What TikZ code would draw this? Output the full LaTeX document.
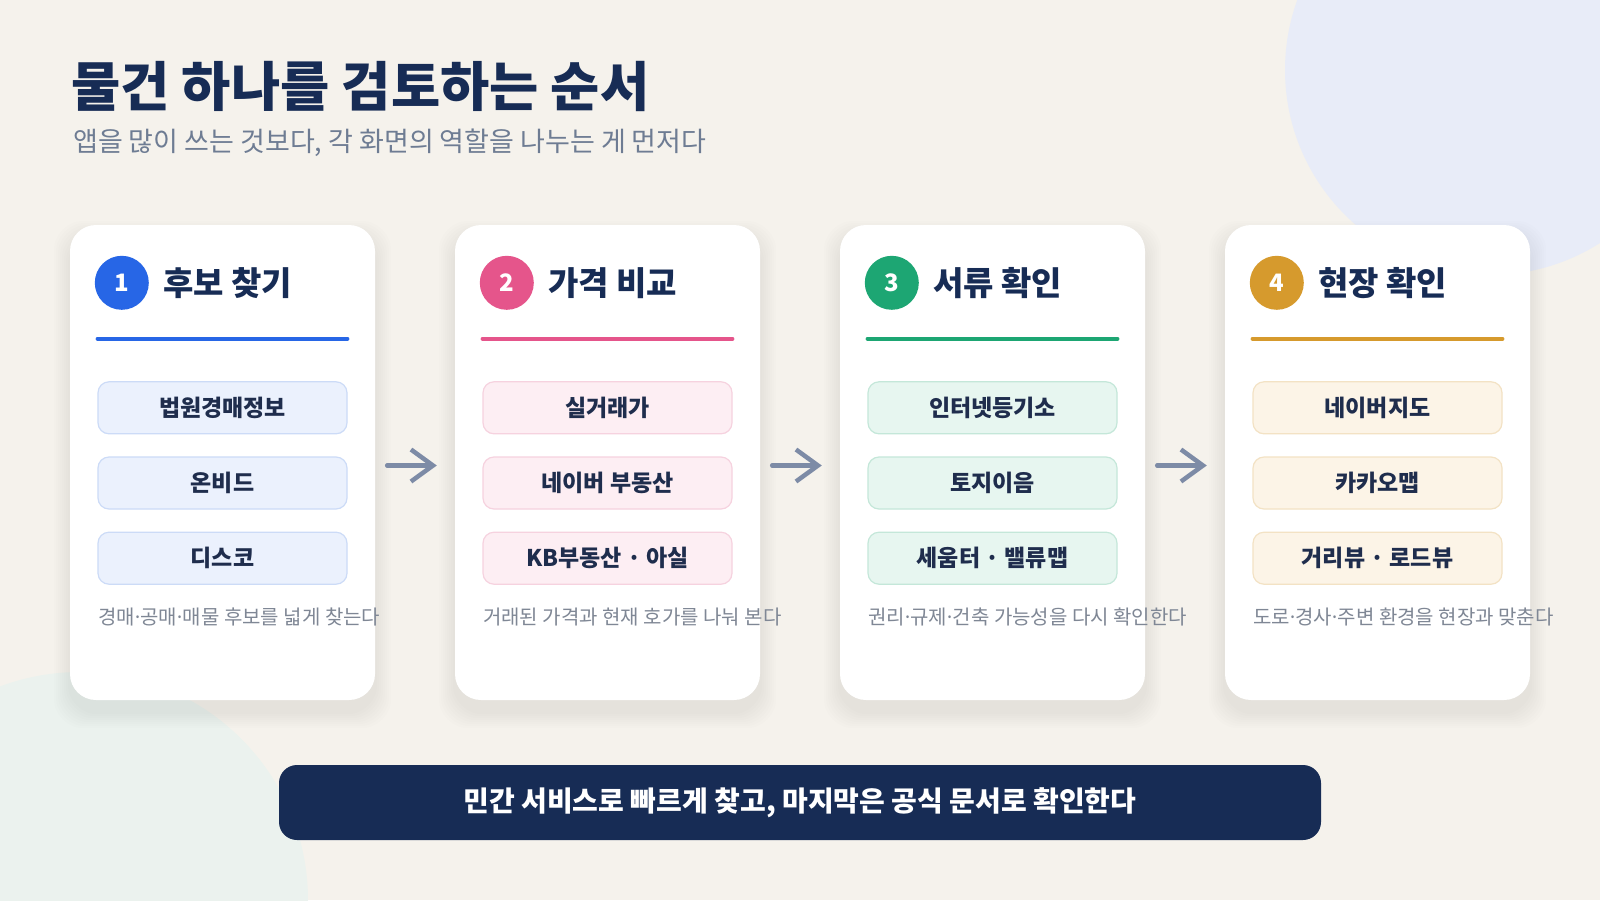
\documentclass[tikz,border=0pt]{standalone}
\usepackage{fontspec}
\setmainfont{Noto Sans CJK KR}
\usetikzlibrary{arrows.meta,positioning,calc,backgrounds}
\definecolor{pagebg}{HTML}{F5F2EC}
\definecolor{bubbleblue}{HTML}{E8ECF8}
\definecolor{bubblegreen}{HTML}{EBF2EE}
\definecolor{navy}{HTML}{172C55}
\definecolor{itemink}{HTML}{1F2D4D}
\definecolor{subgray}{HTML}{6E7C93}
\definecolor{notegray}{HTML}{7F8795}
\definecolor{arrowgray}{HTML}{7D8BA6}
\definecolor{main1}{HTML}{2766E6}
\definecolor{main2}{HTML}{E5558B}
\definecolor{main3}{HTML}{1DA673}
\definecolor{main4}{HTML}{D69A2D}
\definecolor{tint1}{HTML}{EBF1FD}
\definecolor{tint2}{HTML}{FDEEF3}
\definecolor{tint3}{HTML}{E7F6F0}
\definecolor{tint4}{HTML}{FCF4E7}
\definecolor{edge1}{HTML}{CCDBF7}
\definecolor{edge2}{HTML}{F6D2DF}
\definecolor{edge3}{HTML}{C4E7D9}
\definecolor{edge4}{HTML}{F3E2C4}
% tight middle dot for the notes
\newcommand{\tdot}{\kern-0.14em·\kern-0.14em}

\begin{document}
\begin{tikzpicture}[x=1pt, y=-1pt,
    card/.style={fill=white, rounded corners=26pt, minimum width=305pt, minimum height=475pt, inner sep=0pt},
    badge/.style={circle, minimum size=54pt, inner sep=0pt, text=white, font=\fontsize{24}{24}\selectfont\bfseries},
    cardtitle/.style={inner sep=0pt, text=navy, font=\fontsize{33}{33}\selectfont\bfseries},
    rule/.style={line width=4.5pt, line cap=round},
    item/.style={rounded corners=11pt, line width=1.2pt, minimum width=249pt, minimum height=52pt, inner sep=0pt, text=itemink, font=\fontsize{23}{23}\selectfont\bfseries},
    note/.style={anchor=west, inner sep=0pt, text=notegray, font=\fontsize{20}{20}\selectfont},
    flow/.style={-{Straight Barb[length=22pt, width=32pt]}, line width=4.5pt, arrowgray, line cap=round, line join=round}]

    \useasboundingbox (0,0) rectangle (1600,900);

    % Page and bubbles
    \begin{scope}[on background layer]
        \clip (0,0) rectangle (1600,900);
        \fill[pagebg] (0,0) rectangle (1600,900);
        \fill[bubbleblue] (1490,70) circle (205);
        \fill[bubblegreen] (80,900) circle (228);
    \end{scope}

    % Heading
    \node[anchor=west, inner sep=0pt, text=navy, font=\fontsize{53.5}{53.5}\selectfont\bfseries] (title) at (71,86) {물건 하나를 검토하는 순서};
    \node[anchor=west, inner sep=0pt, text=subgray, font=\fontsize{27}{27}\selectfont] (sub) at (73,143) {앱을 많이 쓰는 것보다, 각 화면의 역할을 나누는 게 먼저다};

    % Cards
    \foreach \i/\ttl in {1/후보 찾기, 2/가격 비교, 3/서류 확인, 4/현장 확인} {
        \node[card] (c\i) at ({222.5+385*(\i-1)}, 462.5) {};
        \node[badge, fill=main\i] (b\i) at ([shift={(52,58)}]c\i.north west) {\i};
        \node[cardtitle, right=14pt of b\i] (t\i) {\ttl};
        \draw[rule, main\i] ([shift={(28,114)}]c\i.north west) -- ([shift={(-28,114)}]c\i.north east);
    }

    % Soft shadows under the cards
    \begin{scope}[on background layer]
        \foreach \i in {1,...,4}
            \foreach \k in {2,4,...,16}
                \fill[black, opacity=0.008, rounded corners=30pt] ([shift={(-\k,12-\k)}]c\i.north west) rectangle ([shift={(\k,12+\k)}]c\i.south east);
    \end{scope}

    % Tools per step
    \foreach \i/\one/\two/\three/\txt in {
        1/법원경매정보/온비드/디스코/경매\tdot 공매\tdot 매물 후보를 넓게 찾는다,
        2/실거래가/네이버 부동산/KB부동산 · 아실/거래된 가격과 현재 호가를 나눠 본다,
        3/인터넷등기소/토지이음/세움터 · 밸류맵/권리\tdot 규제\tdot 건축 가능성을 다시 확인한다,
        4/네이버지도/카카오맵/거리뷰 · 로드뷰/도로\tdot 경사\tdot 주변 환경을 현장과 맞춘다} {
        \node[item, fill=tint\i, draw=edge\i] (i\i a) at ([shift={(0,183)}]c\i.north) {\one};
        \node[item, fill=tint\i, draw=edge\i, below=22pt of i\i a] (i\i b) {\two};
        \node[item, fill=tint\i, draw=edge\i, below=22pt of i\i b] (i\i c) {\three};
        \node[note] (n\i) at ([shift={(28,392)}]c\i.north west) {\txt};
    }

    % Flow between cards
    \foreach \i [evaluate=\i as \j using int(\i+1)] in {1,2,3}
        \draw[flow] ([shift={(12,3)}]c\i.east) -- ([shift={(-18,3)}]c\j.west);

    % Closing banner
    \node[fill=navy, rounded corners=18pt, minimum width=1042pt, minimum height=75pt, text=white, font=\fontsize{28}{28}\selectfont\bfseries] (sum) at (800,802.5) {민간 서비스로 빠르게 찾고, 마지막은 공식 문서로 확인한다};
\end{tikzpicture}
\end{document}
